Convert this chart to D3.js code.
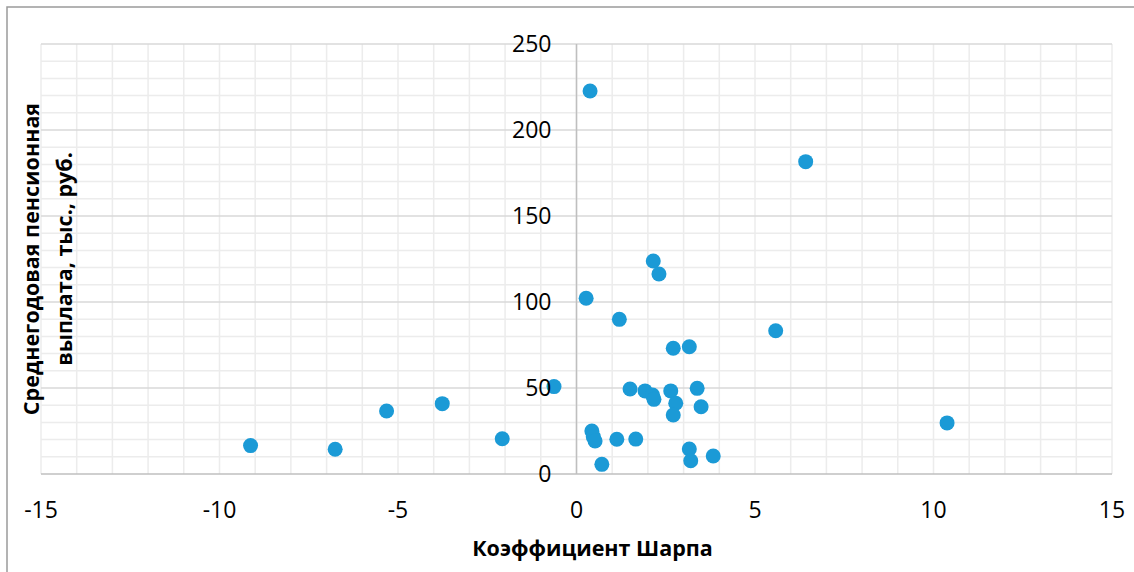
<!DOCTYPE html>
<html>
<head>
<meta charset="utf-8">
<script src="https://cdn.jsdelivr.net/npm/d3@7"></script>
<style>
  body { margin: 0; background: #fff; }
  svg { display: block; font-family: "Open Sans", sans-serif; }
</style>
</head>
<body>
<svg id="chart"></svg>
<script>
// Коэффициент Шарпа (x) / среднегодовая выплата, тыс. руб. (y)
var sharpe = [0.38, 6.42, 2.15, 2.31, 0.27, 1.20, 5.58, 2.71, 3.16, -0.63,
  1.50, 1.92, 2.13, 2.17, 2.64, 2.78, 2.71, 3.38, 3.49, 0.43,
  0.47, 0.52, 1.13, 1.66, 0.71, 3.16, 3.20, 3.83, 10.38, -9.13,
  -6.76, -5.32, -3.76, -2.08]
var payout = [222.7, 181.6, 123.8, 116.3, 102.2, 89.9, 83.3, 73.1, 74.0, 50.8,
  49.4, 48.3, 45.9, 43.4, 48.3, 41.1, 34.3, 49.8, 39.1, 25.0,
  21.7, 19.2, 20.2, 20.3, 5.6, 14.5, 7.7, 10.5, 29.7, 16.5,
  14.4, 36.6, 40.9, 20.5]
var xTicks = [-15, -10, -5, 0, 5, 10, 15]
var yTicks = [0, 50, 100, 150, 200, 250]

var width = 1134, height = 572
var plotL = 41, plotR = 1112, plotT = 44, plotB = 474

var svg = d3.select('#chart')
  .attr('width', width)
  .attr('height', height)

// outer chart border (runs past the picture on the right/bottom)
svg.append('rect')
  .attr('x', 7).attr('y', 7)
  .attr('width', 1140).attr('height', 580)
  .attr('fill', 'none')
  .attr('stroke', '#9a9a9a')
  .attr('stroke-width', 1.5)

var x = d3.scaleLinear().domain([-15, 15]).range([plotL, plotR])
var y = d3.scaleLinear().domain([0, 250]).range([plotB, plotT])

var grid = svg.append('g')

// minor gridlines: every 1 on x, every 10 on y
grid.selectAll('.vx')
  .data(d3.range(-15, 16, 1))
  .enter().append('line')
  .attr('x1', d => x(d)).attr('x2', d => x(d))
  .attr('y1', plotT).attr('y2', plotB)
  .attr('stroke', '#ececec')
  .attr('stroke-width', 1.5)

grid.selectAll('.hy')
  .data(d3.range(10, 251, 10))
  .enter().append('line')
  .attr('x1', plotL).attr('x2', plotR)
  .attr('y1', d => y(d)).attr('y2', d => y(d))
  .attr('stroke', d => d % 50 === 0 ? '#d9d9d9' : '#ececec')
  .attr('stroke-width', 1.5)

// axis lines
svg.append('line')
  .attr('x1', plotL).attr('x2', plotR)
  .attr('y1', y(0)).attr('y2', y(0))
  .attr('stroke', '#bfbfbf').attr('stroke-width', 1.5)
svg.append('line')
  .attr('x1', x(0)).attr('x2', x(0))
  .attr('y1', plotT).attr('y2', plotB)
  .attr('stroke', '#bfbfbf').attr('stroke-width', 1.5)

// points
svg.append('g').selectAll('circle')
  .data(d3.zip(sharpe, payout))
  .enter().append('circle')
  .attr('cx', d => x(d[0]))
  .attr('cy', d => y(d[1]))
  .attr('r', 7.5)
  .attr('fill', '#1b9ad6')

// tick labels
svg.append('g').selectAll('text')
  .data(yTicks)
  .enter().append('text')
  .attr('x', x(0) - 25)
  .attr('y', d => y(d))
  .attr('dy', '0.35em')
  .attr('text-anchor', 'end')
  .attr('font-size', 23)
  .attr('fill', '#000')
  .text(d => d)

svg.append('g').selectAll('text')
  .data(xTicks)
  .enter().append('text')
  .attr('x', d => x(d))
  .attr('y', 510)
  .attr('dy', '0.35em')
  .attr('text-anchor', 'middle')
  .attr('font-size', 23)
  .attr('fill', '#000')
  .text(d => d < 0 ? '-' + Math.abs(d) : d)

// axis titles
svg.append('text')
  .attr('x', x(0) + 16)
  .attr('y', 548)
  .attr('dy', '0.35em')
  .attr('text-anchor', 'middle')
  .attr('font-size', 21.5)
  .attr('font-weight', 'bold')
  .text('Коэффициент Шарпа')

var yTitle = svg.append('text')
  .attr('transform', 'translate(31,' + ((plotT + plotB) / 2) + ') rotate(-90)')
  .attr('text-anchor', 'middle')
  .attr('font-size', 21.5)
  .attr('font-weight', 'bold')
yTitle.append('tspan').attr('x', 0).attr('dy', '0.35em').text('Среднегодовая пенсионная')
yTitle.append('tspan').attr('x', 0).attr('dy', '1.55em').text('выплата, тыс., руб.')
</script>
</body>
</html>
